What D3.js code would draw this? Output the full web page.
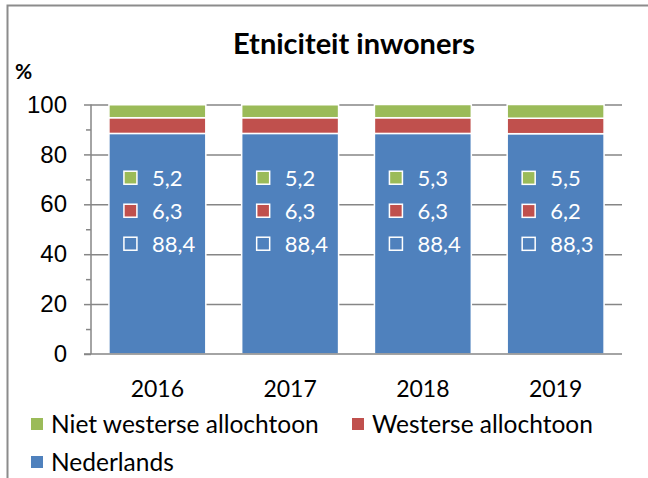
<!DOCTYPE html>
<html>
<head>
<meta charset="utf-8">
<script src="https://cdnjs.cloudflare.com/ajax/libs/d3/7.8.5/d3.min.js"></script>
<style>
  body { margin: 0; background: #fff; }
  svg { display: block; font-family: Lato, "Open Sans", sans-serif; }
  .grid line { stroke: #868686; stroke-width: 1.5px; }
  .grid path { stroke-width: 0; }
</style>
</head>
<body>
<div id="chart"></div>
<script>
// data
var years = ["2016", "2017", "2018", "2019"];
var nederlands = [88.4, 88.4, 88.4, 88.3];
var westers = [6.3, 6.3, 6.3, 6.2];
var nietWesters = [5.2, 5.2, 5.3, 5.5];
var yTicks = [0, 20, 40, 60, 80, 100];

var seriesNames = ["Niet westerse allochtoon", "Westerse allochtoon", "Nederlands"];
var colors = { blue: "#4F81BD", red: "#C0504D", green: "#9BBB59" };

var W = 648, H = 478;
var margin = {top: 104.5, right: 26, bottom: 124, left: 91};
var width = W - margin.left - margin.right,
    height = H - margin.top - margin.bottom;

var nl = d3.formatLocale({decimal: ",", thousands: ".", grouping: [3], currency: ["€", ""]});
var fmt = nl.format(".1f");

var rows = years.map(function(y, i) {
  return {year: y, ned: nederlands[i], wes: westers[i], niet: nietWesters[i]};
});
var stack = d3.stack().keys(["ned", "wes", "niet"])(rows);
var keyColor = {ned: colors.blue, wes: colors.red, niet: colors.green};

var svgRoot = d3.select("#chart").append("svg")
  .attr("width", W).attr("height", H);

// chart border (only top and left visible)
svgRoot.append("path")
  .attr("d", "M7.5," + H + "V5.5H" + W)
  .attr("fill", "none").attr("stroke", "#8c8c8c").attr("stroke-width", 2);

var svg = svgRoot.append("g")
  .attr("transform", "translate(" + margin.left + "," + margin.top + ")");

var x = d3.scaleBand().domain(years).range([0, width]).paddingInner(0.27).paddingOuter(0.135);
var y = d3.scaleLinear().domain([0, 100]).range([height, 0]);

// grid lines
svg.append("g")
  .attr("class", "grid")
  .call(d3.axisLeft(y).tickValues(yTicks.slice(1)).tickSize(-width).tickFormat(""));

// bars
svg.selectAll(".layer")
  .data(stack)
  .enter().append("g")
  .attr("class", "layer")
  .attr("fill", function(d) { return keyColor[d.key]; })
  .selectAll("rect")
  .data(function(d) { return d; })
  .enter().append("rect")
  .attr("x", function(d) { return x(d.data.year); })
  .attr("y", function(d) { return y(d[1]); })
  .attr("width", x.bandwidth())
  .attr("height", function(d) { return y(d[0]) - y(d[1]); })
  .attr("stroke", "#fff")
  .attr("stroke-width", 1.5);

// y axis
var yAxis = svg.append("g")
  .call(d3.axisLeft(y).tickValues(yTicks).tickSize(7).tickPadding(17));
yAxis.select(".domain").attr("stroke", "#868686").attr("stroke-width", 1.5)
  .attr("d", "M0," + height + "V0");
yAxis.selectAll(".tick line").attr("stroke", "#868686").attr("stroke-width", 1.5);
yAxis.selectAll("text").style("font-size", "24px").attr("fill", "#000");

// minor ticks
svg.append("g")
  .call(d3.axisLeft(y).tickValues([10, 30, 50, 70, 90]).tickSize(5).tickFormat(""))
  .call(function(g) {
    g.select(".domain").remove();
    g.selectAll("line").attr("stroke", "#868686").attr("stroke-width", 1.5);
  });

// x axis line
svg.append("line")
  .attr("x1", -7).attr("x2", width)
  .attr("y1", height).attr("y2", height)
  .attr("stroke", "#868686").attr("stroke-width", 1.5);

// x labels
svg.selectAll(".xlab")
  .data(years)
  .enter().append("text")
  .attr("class", "xlab")
  .attr("x", function(d) { return x(d) + x.bandwidth() / 2; })
  .attr("y", height + 43)
  .attr("text-anchor", "middle")
  .style("font-size", "23px")
  .text(function(d) { return d; });

// value labels inside blue bars
var lab = svg.selectAll(".vlab")
  .data(rows)
  .enter().append("g")
  .attr("class", "vlab")
  .attr("transform", function(d) {
    return "translate(" + (x(d.year) + 14) + "," + y(d.ned / 2) + ")";
  });

var items = [
  {key: "niet", fill: colors.green, dy: -66},
  {key: "wes", fill: colors.red, dy: -33},
  {key: "ned", fill: colors.blue, dy: 0}
];
items.forEach(function(it) {
  lab.append("rect")
    .attr("x", 1).attr("y", it.dy - 6.5)
    .attr("width", 13).attr("height", 13)
    .attr("fill", it.fill)
    .attr("stroke", "#fff").attr("stroke-width", 1.5);
  lab.append("text")
    .attr("x", 29).attr("y", it.dy)
    .attr("dy", "0.36em")
    .attr("fill", "#fff")
    .style("font-size", "22px")
    .text(function(d) { return fmt(d[it.key]); });
});

// title and unit
svgRoot.append("text")
  .attr("x", 354).attr("y", 54)
  .attr("text-anchor", "middle")
  .style("font-size", "29px").style("font-weight", "bold")
  .text("Etniciteit inwoners");

svgRoot.append("text")
  .attr("x", 15).attr("y", 79)
  .style("font-size", "21px").style("font-weight", "bold")
  .text("%");

// legend
var legendItems = [
  {name: seriesNames[0], color: colors.green, x: 31, y: 424},
  {name: seriesNames[1], color: colors.red, x: 352, y: 424},
  {name: seriesNames[2], color: colors.blue, x: 31, y: 462}
];
var leg = svgRoot.selectAll(".leg")
  .data(legendItems)
  .enter().append("g")
  .attr("class", "leg")
  .attr("transform", function(d) { return "translate(" + d.x + "," + d.y + ")"; });
leg.append("rect")
  .attr("x", 0).attr("y", -6).attr("width", 12).attr("height", 12)
  .attr("fill", function(d) { return d.color; });
leg.append("text")
  .attr("x", 20).attr("dy", "0.36em")
  .style("font-size", "24.5px")
  .text(function(d) { return d.name; });
</script>
</body>
</html>
